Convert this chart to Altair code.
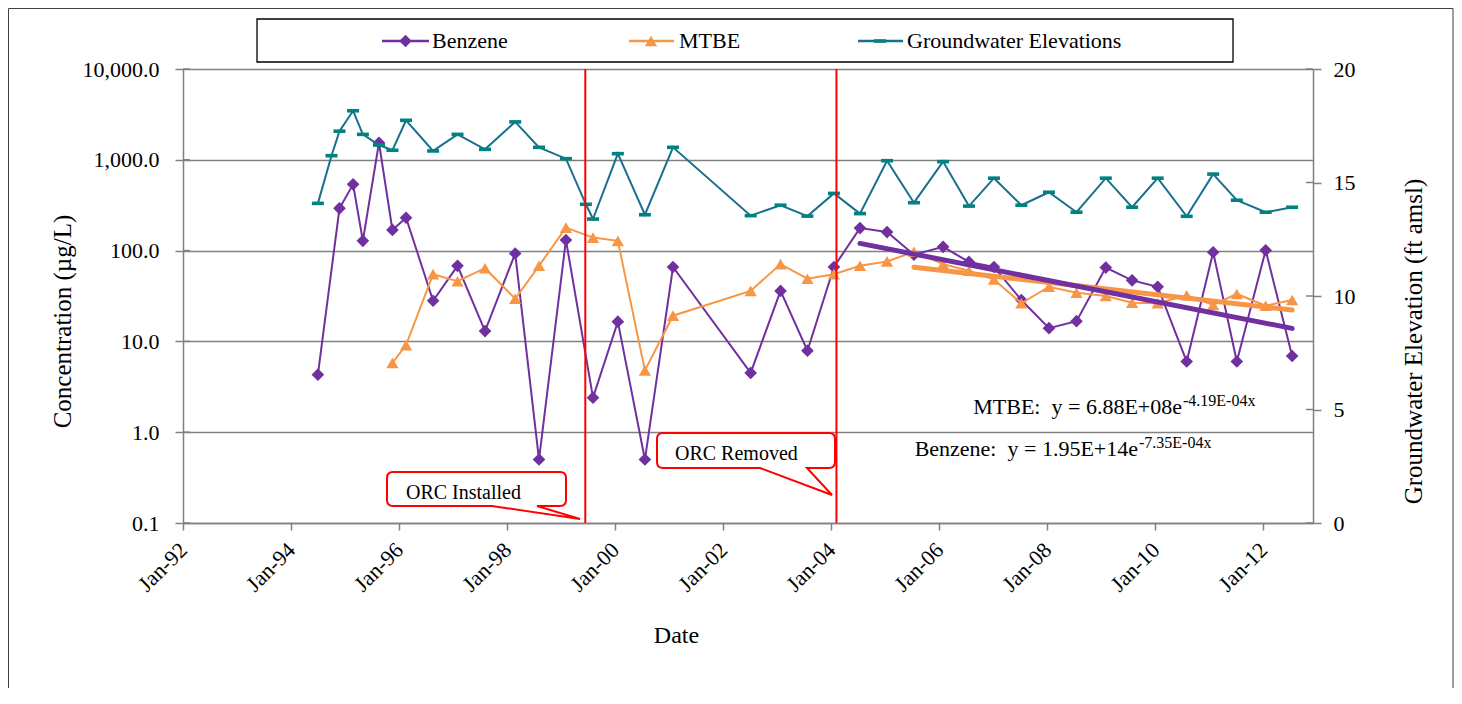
import altair as alt
import pandas as pd

# ---------------- data ----------------
dates = ["1994-07-01", "1994-10-01", "1994-11-24", "1995-02-24", "1995-05-01",
         "1995-08-18", "1995-11-17", "1996-02-17", "1996-08-18", "1997-01-30",
         "1997-08-04", "1998-02-24", "1998-08-04", "1999-02-02", "1999-06-17",
         "1999-08-04", "2000-01-19", "2000-07-20", "2001-01-26", "2002-07-05",
         "2003-01-23", "2003-07-24", "2004-01-19", "2004-07-13", "2005-01-12",
         "2005-07-13", "2006-01-26", "2006-07-20", "2007-01-05", "2007-07-09",
         "2008-01-12", "2008-07-16", "2009-01-30", "2009-07-27", "2010-01-16",
         "2010-07-31", "2011-01-26", "2011-07-05", "2012-01-16", "2012-07-13"]

benzene = [4.3, None, 292, 537, 128, 1540, 169, 230, 28, 68,
           13, 93, 0.5, 131, None, 2.4, 16.5, 0.5, 66, 4.5,
           36, 7.9, 66, 177, 160, 90, 110, 75, 66, 28.6,
           14, 16.7, 65, 47, 40, 6, 96, 6, 101, 6.9]

mtbe = [None, None, None, None, None, None, 5.8, 9.1, 55, 46,
        64, 29.5, 68, 179, None, 139, 128, 4.8, 19.2, 36,
        71, 49, 55, 68, 76, 97, 71, 60, 48, 26.3,
        40, 34.4, 31.6, 26.7, 26.3, 32.2, 25.2, 33.3, 24.7, 28.6]

groundwater = [14.08, 16.18, 17.26, 18.16, 17.12, 16.65, 16.42, 17.74, 16.39, 17.12,
               16.46, 17.67, 16.55, 16.05, 14.04, 13.39, 16.27, 13.58, 16.55, 13.54,
               14.00, 13.52, 14.52, 13.63, 15.96, 14.11, 15.92, 13.96, 15.19, 14.00,
               14.57, 13.69, 15.19, 13.91, 15.19, 13.51, 15.37, 14.22, 13.69, 13.91]

trend_benzene_dates = ["2004-07-13", "2012-07-13"]
trend_benzene_vals = [120, 13.9]
trend_mtbe_dates = ["2005-07-13", "2012-07-13"]
trend_mtbe_vals = [65.5, 22.2]

orc_dates = ["1999-06-13", "2004-02-05"]

left_ticks = [0.1, 1, 10, 100, 1000, 10000]
right_ticks = [0, 5, 10, 15, 20]
x_tick_years = list(range(1992, 2013, 2))

legend_labels = ["Benzene", "MTBE", "Groundwater Elevations"]
orc_labels = ["ORC Installed", "ORC Removed"]
eq_mtbe = ["MTBE:\u00a0\u00a0y = 6.88E+08e", "-4.19E-04x"]
eq_benzene = ["Benzene:\u00a0\u00a0y = 1.95E+14e", "-7.35E-04x"]

# ---------------- styling ----------------
FONT = "Liberation Serif"
PURPLE = "#7030A0"
ORANGE = "#F79646"
TEAL_LINE = "#17708F"
TEAL_MARK = "#00827F"
GRID = "#808080"
RED = "#FF0000"
W, H = 1130, 454
DASH = "M-1,-0.3L1,-0.3L1,0.3L-1,0.3Z"


def series_df(vals, name):
    return pd.DataFrame([{"date": d, name: v} for d, v in zip(dates, vals) if v is not None])


bz_df = series_df(benzene, "value")
mt_df = series_df(mtbe, "value")
gw_df = series_df(groundwater, "gw")
bz_tr = pd.DataFrame({"date": trend_benzene_dates, "value": trend_benzene_vals})
mt_tr = pd.DataFrame({"date": trend_mtbe_dates, "value": trend_mtbe_vals})
orc_df = pd.DataFrame({"date": orc_dates})
one = pd.DataFrame({"a": [0]})

x_enc = alt.X(
    "date:T",
    scale=alt.Scale(type="utc", domain=[alt.DateTime(year=1992, month=1, date=1, utc=True),
                                        alt.DateTime(year=2012, month=12, date=1, utc=True)]),
    axis=alt.Axis(
        values=[alt.DateTime(year=y, month=1, date=1, utc=True) for y in x_tick_years],
        format="%b-%y", labelAngle=315, labelAlign="right", labelBaseline="middle",
        labelFontSize=22, labelPadding=16, tickSize=7, labelFlush=False, labelOverlap=False,
        title="Date", titleFontSize=24, titleX=493, titleY=112, titleAlign="center",
        titleBaseline="middle", grid=False, domainColor=GRID, tickColor=GRID,
        domainWidth=1.5, tickWidth=1.5,
    ),
)

yl_enc = alt.Y(
    "value:Q",
    scale=alt.Scale(type="log", domain=[0.1, 10000], nice=False),
    axis=alt.Axis(
        values=left_ticks, format=",.1f", labelFontSize=22, labelPadding=16, tickSize=8,
        title="Concentration (µg/L)", titleFontSize=25, titleAngle=270, titleX=-121, titleY=252,
        titleAlign="center", titleBaseline="middle",
        grid=True, gridColor=GRID, gridWidth=1.5, domainColor=GRID, tickColor=GRID,
        domainWidth=1.5, tickWidth=1.5, labelFlush=False,
    ),
)

yr_enc = alt.Y(
    "gw:Q",
    scale=alt.Scale(domain=[0, 20], nice=False, zero=False),
    axis=alt.Axis(
        orient="right", values=right_ticks, format="d", labelFontSize=22, labelPadding=12,
        tickSize=8, title="Groundwater Elevation (ft amsl)", titleFontSize=25, titleAngle=270,
        titleX=100, titleY=272, titleAlign="center", titleBaseline="middle",
        grid=False, domainColor=GRID, tickColor=GRID, domainWidth=1.5, tickWidth=1.5,
        labelFlush=False,
    ),
)

# ---------------- left-axis series ----------------
bz_line = alt.Chart(bz_df).mark_line(color=PURPLE, strokeWidth=2).encode(x=x_enc, y=yl_enc)
bz_pts = alt.Chart(bz_df).mark_point(shape="diamond", size=160, filled=True, color=PURPLE,
                                     opacity=1).encode(x=x_enc, y=yl_enc)
mt_line = alt.Chart(mt_df).mark_line(color=ORANGE, strokeWidth=2).encode(x=x_enc, y=yl_enc)
mt_pts = alt.Chart(mt_df).mark_point(shape="triangle-up", size=150, filled=True, color=ORANGE,
                                     opacity=1).encode(x=x_enc, y=yl_enc)
mt_trend = alt.Chart(mt_tr).mark_line(color=ORANGE, strokeWidth=5, strokeCap="round").encode(
    x=x_enc, y=yl_enc)
bz_trend = alt.Chart(bz_tr).mark_line(color=PURPLE, strokeWidth=5, strokeCap="round").encode(
    x=x_enc, y=yl_enc)
l_inner = alt.Chart(pd.DataFrame({"value": left_ticks})).mark_rule(
    color=GRID, strokeWidth=1.5).encode(y=yl_enc, x=alt.value(0), x2=alt.value(7))

left = alt.layer(l_inner, bz_line, bz_pts, mt_line, mt_pts, mt_trend, bz_trend)

# ---------------- right-axis series ----------------
gw_line = alt.Chart(gw_df).mark_line(color=TEAL_LINE, strokeWidth=2).encode(x=x_enc, y=yr_enc)
gw_pts = alt.Chart(gw_df).mark_point(shape=DASH, size=144, filled=True, color=TEAL_MARK,
                                     opacity=1).encode(x=x_enc, y=yr_enc)
r_inner = alt.Chart(pd.DataFrame({"gw": right_ticks})).mark_rule(
    color=GRID, strokeWidth=1.5).encode(y=yr_enc, x=alt.value(W - 7), x2=alt.value(W))

right = alt.layer(r_inner, gw_line, gw_pts)

# ---------------- decorations ----------------
frame = alt.Chart(one).mark_rect(fill="transparent", stroke="#404040", strokeWidth=1).encode(
    x=alt.value(-174.5), x2=alt.value(1270), y=alt.value(-60.5), y2=alt.value(700))
legend_box = alt.Chart(one).mark_rect(fill="white", stroke="black", strokeWidth=1.3).encode(
    x=alt.value(74), x2=alt.value(1050), y=alt.value(-50), y2=alt.value(-7))

orc_rules = alt.Chart(orc_df).mark_rule(color=RED, strokeWidth=2).encode(x=x_enc)

CALLOUT_1 = ("M210,403 L377,403 Q383,403 383,409 L383,431 Q383,437 377,437 L354,437 "
             "L397,450 L309,437 L210,437 Q204,437 204,431 L204,409 Q204,403 210,403 Z")
CALLOUT_2 = ("M480,364 L646,364 Q652,364 652,370 L652,393 Q652,399 646,399 L624,399 "
             "L649,426 L577,399 L480,399 Q474,399 474,393 L474,370 Q474,364 480,364 Z")


def shape_px(path, fill, stroke, sw):
    return alt.Chart(one).mark_point(shape=path, size=4, filled=True, fill=fill, stroke=stroke,
                                     strokeWidth=sw, opacity=1, fillOpacity=1,
                                     strokeOpacity=1).encode(x=alt.value(0), y=alt.value(0))


def text_px(x, y, txt, size, align="left", baseline="alphabetic"):
    return alt.Chart(one).mark_text(text=txt, font=FONT, fontSize=size, align=align,
                                    baseline=baseline, color="black").encode(
        x=alt.value(x), y=alt.value(y))


def rule_px(x1, x2, y, color, w):
    return alt.Chart(one).mark_rule(color=color, strokeWidth=w).encode(
        x=alt.value(x1), x2=alt.value(x2), y=alt.value(y))


def point_px(x, y, shape, size, color):
    return alt.Chart(one).mark_point(shape=shape, size=size, filled=True, color=color,
                                     opacity=1).encode(x=alt.value(x), y=alt.value(y))


callout1 = shape_px(CALLOUT_1, "white", RED, 2)
callout2 = shape_px(CALLOUT_2, "white", RED, 2)
t_orc1 = text_px(223, 430, orc_labels[0], 20)
t_orc2 = text_px(492, 391, orc_labels[1], 20)

t_eq1 = text_px(999, 345, eq_mtbe[0], 22, align="right")
t_eq1s = text_px(1000, 337, eq_mtbe[1], 16)
t_eq2 = text_px(955, 387, eq_benzene[0], 22, align="right")
t_eq2s = text_px(956, 379, eq_benzene[1], 16)

LY = -28
leg = [
    rule_px(199, 246, LY, PURPLE, 2.5), point_px(222.5, LY, "diamond", 160, PURPLE),
    text_px(249, LY, legend_labels[0], 22, baseline="middle"),
    rule_px(446, 491, LY, ORANGE, 2.5), point_px(468, LY, "triangle-up", 150, ORANGE),
    text_px(496, LY, legend_labels[1], 22, baseline="middle"),
    rule_px(675, 720, LY, TEAL_LINE, 2.5), point_px(697, LY, DASH, 144, TEAL_MARK),
    text_px(724, LY, legend_labels[2], 22, baseline="middle"),
]

chart = alt.layer(
    frame, legend_box, left, right, orc_rules, callout1, callout2, t_orc1, t_orc2,
    t_eq1, t_eq1s, t_eq2, t_eq2s, *leg
).resolve_scale(y="independent").properties(
    width=W, height=H,
    padding={"left": 175, "top": 61, "right": 141, "bottom": 165},
    autosize=alt.AutoSizeParams(type="none"),
).configure_view(stroke="transparent").configure_axis(
    labelFont=FONT, titleFont=FONT, titleFontWeight="normal",
    labelColor="black", titleColor="black",
)

chart.save("out.html", embed_options={"renderer": "svg", "actions": False})
